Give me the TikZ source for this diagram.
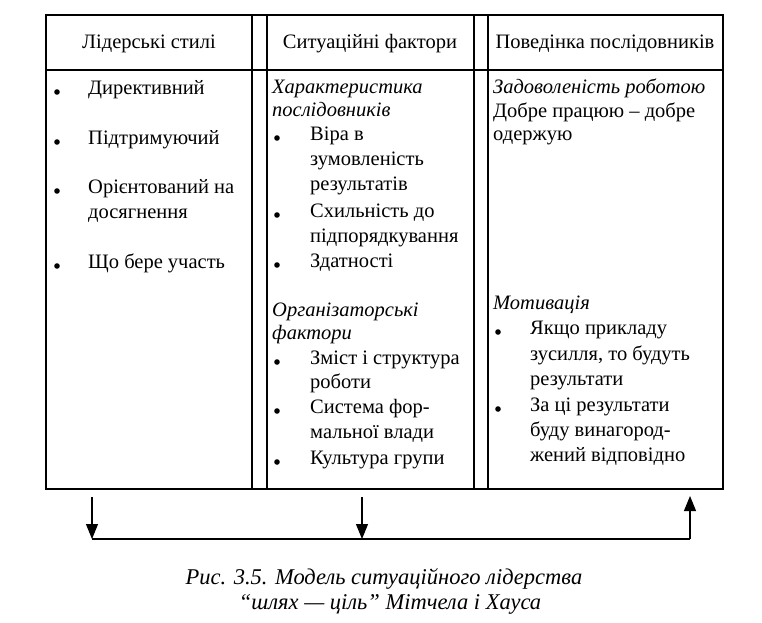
\documentclass[tikz,border=0pt]{standalone}
\usepackage{fontspec}
\setmainfont{Liberation Serif}
\usetikzlibrary{arrows.meta}
\tikzset{
  frame/.style={line width=1.1pt},
  txt/.style={inner sep=0pt, anchor=base west, font=\fontsize{20.5}{24}\selectfont},
  itxt/.style={txt, font=\fontsize{20.5}{24}\selectfont\itshape},
  head/.style={inner sep=0pt, anchor=base, font=\fontsize{20.5}{24}\selectfont},
  captxt/.style={inner sep=0pt, anchor=base, font=\fontsize{22.5}{26}\selectfont\itshape},
  conn/.style={line width=1.1pt},
  tip/.style={-{Triangle[length=15pt,width=12pt]}},
}
\newcommand{\bul}[2]{\fill (#1,#2) circle (2.8pt);}
\begin{document}
\begin{tikzpicture}[x=1pt,y=-1pt]
\useasboundingbox (0,0) rectangle (762,622);
% frame
\draw[frame] (46,15) rectangle (723,489);
\draw[frame] (46,70) -- (723,70);
\draw[frame] (252,15) -- (252,489);
\draw[frame] (267,15) -- (267,489);
\draw[frame] (474,15) -- (474,489);
\draw[frame] (488,15) -- (488,489);
% headers
\node[head] (h1) at (149,48) {Лідерські стилі};
\node[head] (h2) at (370,48) {Ситуаційні фактори};
\node[head] (h3) at (605,48) {Поведінка послідовників};
% column 1
\node[txt] (a1) at (88,94) {Директивний};
\node[txt] (a2) at (88,144) {Підтримуючий};
\node[txt] (a3) at (88,193) {Орієнтований на};
\node[txt] (a4) at (88,218) {досягнення};
\node[txt] (a5) at (88,268) {Що бере участь};
\bul{57}{92}\bul{57}{142}\bul{57}{191}\bul{57}{266}
% column 2
\node[itxt] (b1) at (272,93) {Характеристика};
\node[itxt] (b2) at (272,116) {послідовників};
\node[txt] (b3) at (310,140) {Віра в};
\node[txt] (b4) at (310,165) {зумовленість};
\node[txt] (b5) at (310,190) {результатів};
\node[txt] (b6) at (310,217) {Схильність до};
\node[txt] (b7) at (310,242) {підпорядкування};
\node[txt] (b8) at (310,267) {Здатності};
\node[itxt] (b9) at (272,316) {Організаторські};
\node[itxt] (b10) at (272,339) {фактори};
\node[txt] (b11) at (310,364) {Зміст і структура};
\node[txt] (b12) at (310,388) {роботи};
\node[txt] (b13) at (310,413) {Система фор-};
\node[txt] (b14) at (310,438) {мальної влади};
\node[txt] (b15) at (310,464) {Культура групи};
\bul{277}{138}\bul{277}{215}\bul{277}{265}\bul{277}{362}\bul{277}{411}\bul{277}{462}
% column 3
\node[itxt] (c1) at (493,93) {Задоволеність роботою};
\node[txt] (c2) at (493,117) {Добре працюю – добре};
\node[txt] (c3) at (493,140) {одержую};
\node[itxt] (c4) at (493,309) {Мотивація};
\node[txt] (c5) at (530,334) {Якщо прикладу};
\node[txt] (c6) at (530,360) {зусилля, то будуть};
\node[txt] (c7) at (530,385) {результати};
\node[txt] (c8) at (530,411) {За ці результати};
\node[txt] (c9) at (530,436) {буду винагород-};
\node[txt] (c10) at (530,461) {жений відповідно};
\bul{498}{332}\bul{498}{409}
% arrows
\coordinate (p1) at (92,497);
\coordinate (q1) at (92,539);
\coordinate (p2) at (362,497);
\coordinate (q2) at (362,539);
\coordinate (p3) at (690,539);
\coordinate (q3) at (690,496);
\draw[conn,tip] (p1) -- (q1);
\draw[conn,tip] (p2) -- (q2);
\draw[conn] (q1) -- (p3);
\draw[conn,tip] (p3) -- (q3);
% caption
\node[captxt] (cap1) at (384,584) {Рис. 3.5. Модель ситуаційного лідерства};
\node[captxt] (cap2) at (390,609) {“шлях — ціль” Мітчела і Хауса};
\end{tikzpicture}
\end{document}
